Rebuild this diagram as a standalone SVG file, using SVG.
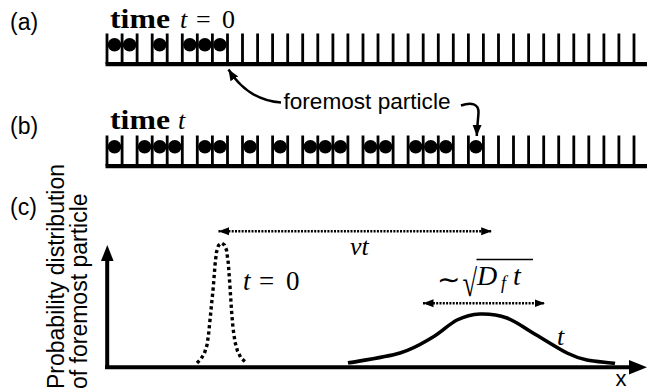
<svg xmlns="http://www.w3.org/2000/svg" width="647" height="390" viewBox="0 0 647 390">
<style>
.sans{font-family:"Liberation Sans",Arial,sans-serif;fill:#000}
.serif{font-family:"Liberation Serif","Times New Roman",serif;fill:#000}
.it{font-style:italic}
.bold{font-weight:bold}
.tick{stroke:#000;stroke-width:2.8;fill:none}
.base{stroke:#000;stroke-width:4.3;fill:none}
.dot{fill:#000}
.conn{stroke:#000;stroke-width:2.5;fill:none}
.dotted{stroke:#000;stroke-width:2.6;fill:none;stroke-dasharray:2 1.3}
.axis{stroke:#000;stroke-width:4;fill:none}
</style>
<defs>
<marker id="ah" markerUnits="userSpaceOnUse" markerWidth="12" markerHeight="10" viewBox="0 0 12 10" refX="11" refY="5" orient="auto">
<path d="M0,0.5 L11,5 L0,9.5 z" fill="#000"/>
</marker>
<marker id="ahd" markerUnits="userSpaceOnUse" markerWidth="11" markerHeight="9" viewBox="0 0 11 9" refX="10.5" refY="4.5" orient="auto-start-reverse">
<path d="M0,0.5 L10.5,4.5 L0,8.5 z" fill="#000"/>
</marker>
<g id="comb">
<path class="tick" d="M107 33.5V64M122.1 33.5V64M137.1 33.5V64M152.2 33.5V64M167.2 33.5V64M182.3 33.5V64M197.3 33.5V64M212.4 33.5V64M227.5 33.5V64M242.5 33.5V64M257.6 33.5V64M272.6 33.5V64M287.7 33.5V64M302.7 33.5V64M317.8 33.5V64M332.9 33.5V64M347.9 33.5V64M363 33.5V64M378 33.5V64M393.1 33.5V64M408.1 33.5V64M423.2 33.5V64M438.3 33.5V64M453.3 33.5V64M468.4 33.5V64M483.4 33.5V64M498.5 33.5V64M513.5 33.5V64M528.6 33.5V64M543.7 33.5V64M558.7 33.5V64M573.8 33.5V64M588.8 33.5V64M603.9 33.5V64M618.9 33.5V64M634 33.5V64"/>
<path class="base" d="M105.5 64.2H647"/>
</g>
</defs>

<g id="panel-a">
<text class="sans" x="10" y="30" font-size="23">(a)</text>
<text class="serif bold" x="110" y="28" font-size="27" textLength="60" lengthAdjust="spacingAndGlyphs">time</text>
<text class="serif it" x="180" y="28" font-size="26">t</text>
<text class="serif" x="196" y="28" font-size="26">=</text>
<text class="serif" x="222" y="28" font-size="26">0</text>
<use href="#comb"/>
<g id="particles-a">
<circle class="dot" cx="114.5" cy="44.7" r="6.8"/>
<circle class="dot" cx="129.6" cy="44.7" r="6.8"/>
<circle class="dot" cx="159.7" cy="44.7" r="6.8"/>
<circle class="dot" cx="189.8" cy="44.7" r="6.8"/>
<circle class="dot" cx="204.9" cy="44.7" r="6.8"/>
<circle class="dot" cx="219.9" cy="44.7" r="6.8"/>
</g>
</g>

<g id="panel-b">
<text class="sans" x="10" y="134" font-size="23">(b)</text>
<text class="serif bold" x="110" y="129" font-size="27" textLength="60" lengthAdjust="spacingAndGlyphs">time</text>
<text class="serif it" x="178" y="129" font-size="26">t</text>
<use href="#comb" transform="translate(0,102)"/>
<g id="particles-b">
<circle class="dot" cx="114.5" cy="146.7" r="6.8"/>
<circle class="dot" cx="144.6" cy="146.7" r="6.8"/>
<circle class="dot" cx="159.7" cy="146.7" r="6.8"/>
<circle class="dot" cx="174.8" cy="146.7" r="6.8"/>
<circle class="dot" cx="204.9" cy="146.7" r="6.8"/>
<circle class="dot" cx="219.9" cy="146.7" r="6.8"/>
<circle class="dot" cx="250.0" cy="146.7" r="6.8"/>
<circle class="dot" cx="280.2" cy="146.7" r="6.8"/>
<circle class="dot" cx="310.3" cy="146.7" r="6.8"/>
<circle class="dot" cx="325.3" cy="146.7" r="6.8"/>
<circle class="dot" cx="340.4" cy="146.7" r="6.8"/>
<circle class="dot" cx="370.5" cy="146.7" r="6.8"/>
<circle class="dot" cx="385.6" cy="146.7" r="6.8"/>
<circle class="dot" cx="415.7" cy="146.7" r="6.8"/>
<circle class="dot" cx="430.7" cy="146.7" r="6.8"/>
<circle class="dot" cx="445.8" cy="146.7" r="6.8"/>
<circle class="dot" cx="475.9" cy="146.7" r="6.8"/>
</g>
</g>

<g id="label-foremost">
<text class="sans" x="283.5" y="109.3" font-size="22" textLength="167" lengthAdjust="spacingAndGlyphs">foremost particle</text>
</g>

<g id="connectors">
<path class="conn" marker-end="url(#ah)" d="M281 102.5 C258 101 240 88 228.5 69.5"/>
<path class="conn" marker-end="url(#ah)" d="M461 105.5 C471 102 479 103.5 478.5 113 C478 120 477 128 476.8 136"/>
<path class="dotted" marker-start="url(#ahd)" marker-end="url(#ahd)" d="M218.5 231.3H491.7"/>
<path class="dotted" marker-start="url(#ahd)" marker-end="url(#ahd)" d="M423 303.3H545"/>
</g>

<g id="panel-c">
<text class="sans" x="10" y="215" font-size="23">(c)</text>
<text class="sans" font-size="23" transform="translate(64,389) rotate(-90)">Probability distribution</text>
<text class="sans" font-size="23" transform="translate(87,389) rotate(-90)">of foremost particle</text>
<g id="axes">
<path class="axis" d="M107.2 369V258"/>
<polygon points="107.3,245 101,261 113.6,261" fill="#000"/>
<path class="axis" d="M105 367.2H632"/>
<polygon points="647,367.2 629,360 629,374.5" fill="#000"/>
<text class="sans" x="615.5" y="386" font-size="22">x</text>
</g>
<g id="dist-t0">
<path fill="none" stroke="#000" stroke-width="3.4" stroke-dasharray="3.3 3" d="M197 363 L201 359 L204.5 353 L207 345 L208.5 335 L210 320 L211.7 303 L213.3 287 L215 265 L216.5 252 L218.5 245.5 L221.5 243 L224.5 245 L226.5 250 L228.3 263 L230 287 L231.7 313 L233 328 L235 342 L237.5 351 L241 358 L246.5 363"/>
<text class="serif it" x="243" y="290" font-size="27">t</text>
<text class="serif" x="259" y="290" font-size="27">=</text>
<text class="serif" x="286" y="290" font-size="27">0</text>
</g>
<g id="dist-t">
<path fill="none" stroke="#000" stroke-width="3.6" d="M348 363 C356.7 361.3 385.8 357.3 400 353 C414.2 348.7 423.5 342.5 433 337 C442.5 331.5 449.2 323.8 457 320 C464.8 316.2 471.7 314.3 480 314 C488.3 313.7 498.2 314.8 507 318 C515.8 321.2 523 327.2 533 333 C543 338.8 558 348.5 567 353 C576 357.5 579 358.3 587 360 C595 361.7 610.3 362.5 615 363.5"/>
<text class="serif it" x="557" y="345" font-size="26">t</text>
</g>
<text class="serif it" x="350" y="255" font-size="26">vt</text>
<g id="width-label">
<text class="serif" x="437" y="289" font-size="28">∼</text>
<text class="serif" font-size="38" transform="translate(462.5,296) scale(0.7,1)">√</text>
<path d="M476.5 259.5H533" stroke="#000" stroke-width="1.6"/>
<text class="serif it" x="477" y="285" font-size="28">D</text>
<text class="serif it" x="501" y="289" font-size="18">f</text>
<text class="serif it" x="513" y="285" font-size="28">t</text>
</g>
</g>
</svg>
